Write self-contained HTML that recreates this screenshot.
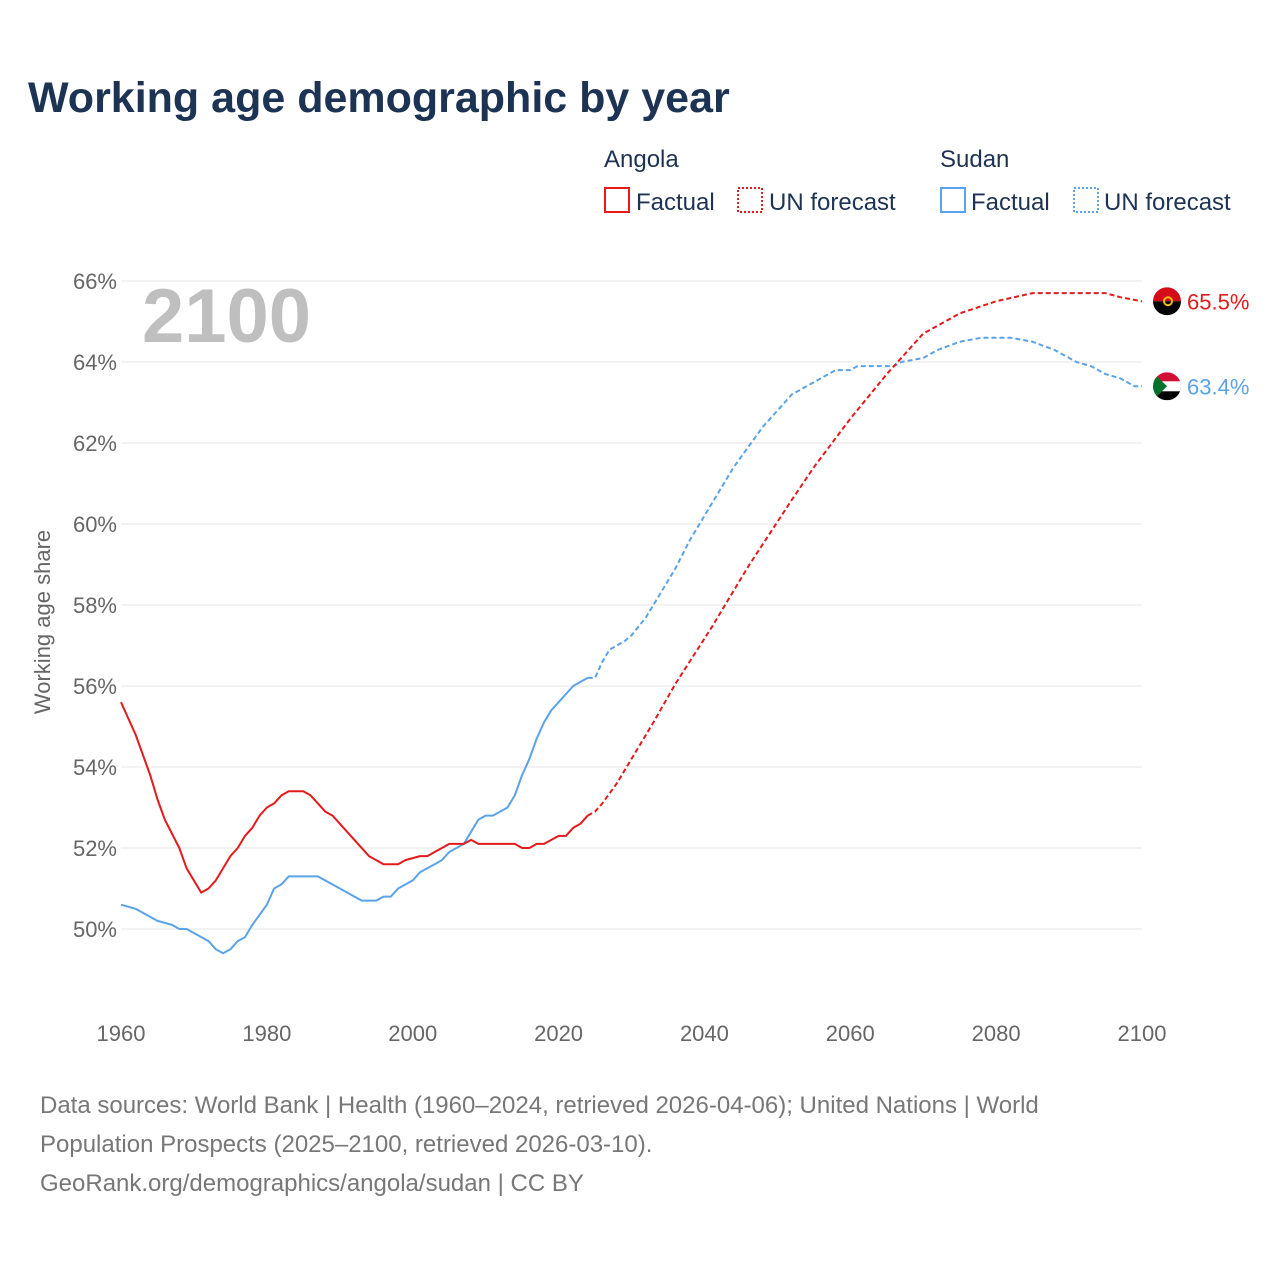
<!DOCTYPE html>
<html><head><meta charset="utf-8">
<style>
body{margin:0;background:#fff;font-family:"Liberation Sans",sans-serif;}
#wrap{position:relative;width:1280px;height:1280px;overflow:hidden;}
</style></head>
<body>
<div id="wrap">
<svg id="chart" width="1280" height="1280" style="position:absolute;left:0;top:0">
<text x="28" y="112" font-size="43" font-weight="bold" fill="#1d3354">Working age demographic by year</text>
<g font-size="24" fill="#1d3354">
<text x="604" y="167">Angola</text>
<text x="940" y="167">Sudan</text>
<g><rect x="605" y="188" width="24" height="24" fill="none" stroke="#e41a1c" stroke-width="2"/><text x="636" y="210">Factual</text></g>
<g><rect x="738" y="188" width="24" height="24" fill="none" stroke="#e41a1c" stroke-width="2" stroke-dasharray="2,2"/><text x="769" y="210">UN forecast</text></g>
<g><rect x="941" y="188" width="24" height="24" fill="none" stroke="#5ba3e8" stroke-width="2"/><text x="971" y="210">Factual</text></g>
<g><rect x="1074" y="188" width="24" height="24" fill="none" stroke="#5ba3e8" stroke-width="2" stroke-dasharray="2,2"/><text x="1104" y="210">UN forecast</text></g>
</g>
<text x="142" y="342" font-size="76" font-weight="bold" fill="#bfbfbf">2100</text>
<text transform="translate(50,622) rotate(-90)" text-anchor="middle" font-size="22" fill="#666">Working age share</text>
<g id="grid"></g><g id="yt"></g><g id="xt"></g><g id="lines"></g><g id="ends"></g>
<g font-size="24" fill="#777">
<text x="40" y="1113">Data sources: World Bank | Health (1960–2024, retrieved 2026-04-06); United Nations | World</text>
<text x="40" y="1152">Population Prospects (2025–2100, retrieved 2026-03-10).</text>
<text x="40" y="1191">GeoRank.org/demographics/angola/sudan | CC BY</text>
</g>
</svg>
</div>
<script>
const yTicks=[50,52,54,56,58,60,62,64,66];
const xTicks=[1960,1980,2000,2020,2040,2060,2080,2100];
const angolaYears=[1960,1962,1964,1965,1966,1968,1969,1971,1972,1973,1975,1976,1977,1978,1979,1980,1981,1982,1983,1985,1986,1987,1988,1989,1990,1992,1994,1996,1998,1999,2001,2002,2004,2005,2007,2008,2009,2014,2015,2016,2017,2018,2019,2020,2021,2022,2023,2024];
const angolaVals=[55.6,54.8,53.8,53.2,52.7,52.0,51.5,50.9,51.0,51.2,51.8,52.0,52.3,52.5,52.8,53.0,53.1,53.3,53.4,53.4,53.3,53.1,52.9,52.8,52.6,52.2,51.8,51.6,51.6,51.7,51.8,51.8,52.0,52.1,52.1,52.2,52.1,52.1,52.0,52.0,52.1,52.1,52.2,52.3,52.3,52.5,52.6,52.8];
const angolaFcYears=[2024,2025,2026,2028,2030,2033,2036,2041,2046,2052,2055,2060,2065,2070,2075,2080,2085,2095,2097,2100];
const angolaFcVals=[52.8,52.9,53.1,53.6,54.2,55.1,56.05,57.45,58.95,60.6,61.4,62.6,63.7,64.7,65.2,65.5,65.7,65.7,65.6,65.5];
const sudanYears=[1960,1962,1964,1965,1967,1968,1969,1972,1973,1974,1975,1976,1977,1978,1980,1981,1982,1983,1987,1990,1993,1995,1996,1997,1998,2000,2001,2003,2004,2005,2007,2008,2009,2010,2011,2013,2014,2015,2016,2017,2018,2019,2020,2022,2023,2024];
const sudanVals=[50.6,50.5,50.3,50.2,50.1,50.0,50.0,49.7,49.5,49.4,49.5,49.7,49.8,50.1,50.6,51.0,51.1,51.3,51.3,51.0,50.7,50.7,50.8,50.8,51.0,51.2,51.4,51.6,51.7,51.9,52.1,52.4,52.7,52.8,52.8,53.0,53.3,53.8,54.2,54.7,55.1,55.4,55.6,56.0,56.1,56.2];
const sudanFcYears=[2024,2025,2026,2027,2029,2030,2032,2034,2036,2038,2040,2042,2044,2046,2048,2050,2052,2054,2056,2058,2060,2061,2066,2067,2070,2072,2075,2078,2082,2085,2088,2091,2093,2095,2097,2099,2100];
const sudanFcVals=[56.2,56.2,56.6,56.9,57.1,57.25,57.7,58.3,58.9,59.6,60.2,60.8,61.4,61.9,62.4,62.8,63.2,63.4,63.6,63.8,63.8,63.9,63.9,64.0,64.1,64.3,64.5,64.6,64.6,64.5,64.3,64.0,63.9,63.7,63.6,63.4,63.4];

const NS="http://www.w3.org/2000/svg";
const X=y=>121+(y-1960)*(1142-121)/140;
const Y=v=>929-(v-50)*40.5;
function mk(tag,attrs,parent){const e=document.createElementNS(NS,tag);for(const k in attrs)e.setAttribute(k,attrs[k]);document.getElementById(parent).appendChild(e);return e;}
yTicks.forEach(t=>{
  const l=mk('line',{x1:121,x2:1142,y1:Y(t),y2:Y(t),stroke:'#e6e6e6','stroke-width':1},'grid');
  
  
  const tx=mk('text',{x:117,y:Y(t)+8,'text-anchor':'end','font-size':22,fill:'#666'},'yt');
  tx.textContent=t+'%';
  
  
});
xTicks.forEach(t=>{
  const tx=mk('text',{x:X(t),y:1041,'text-anchor':'middle','font-size':22,fill:'#666'},'xt');
  tx.textContent=t;
  
  
});
function line(xs,vs,color,dash,name){
  const d=xs.map((x,i)=>(i?'L':'M')+X(x).toFixed(1)+','+Y(vs[i]).toFixed(1)).join('');
  const p=mk('path',{d:d,fill:'none',stroke:color,'stroke-width':2,'stroke-linejoin':'round'},'lines');
  if(dash)p.setAttribute('stroke-dasharray','5,3');
  
  
}
line(sudanYears,sudanVals,'#5ba3e8',false,'sudan-factual-line');
line(sudanFcYears,sudanFcVals,'#5ba3e8',true,'sudan-forecast-line');
line(angolaYears,angolaVals,'#e41a1c',false,'angola-factual-line');
line(angolaFcYears,angolaFcVals,'#e41a1c',true,'angola-forecast-line');
function endLabel(v,color,name,top,bot,mid){
  const cx=1167,cy=Y(v);
  const g=mk('g',{},'ends');
  
  
  const id='c'+name;
  const cp=document.createElementNS(NS,'clipPath');cp.setAttribute('id',id);
  const c=document.createElementNS(NS,'circle');c.setAttribute('cx',cx);c.setAttribute('cy',cy);c.setAttribute('r',14);cp.appendChild(c);g.appendChild(cp);
  const r1=document.createElementNS(NS,'rect');r1.setAttribute('x',cx-14);r1.setAttribute('y',cy-14);r1.setAttribute('width',28);r1.setAttribute('height',14);r1.setAttribute('fill',top);r1.setAttribute('clip-path','url(#'+id+')');g.appendChild(r1);
  const r2=document.createElementNS(NS,'rect');r2.setAttribute('x',cx-14);r2.setAttribute('y',cy);r2.setAttribute('width',28);r2.setAttribute('height',14);r2.setAttribute('fill',bot);r2.setAttribute('clip-path','url(#'+id+')');g.appendChild(r2);
  if(mid){const r3=document.createElementNS(NS,'rect');r3.setAttribute('x',cx-14);r3.setAttribute('y',cy-5);r3.setAttribute('width',28);r3.setAttribute('height',10);r3.setAttribute('fill',mid);r3.setAttribute('clip-path','url(#'+id+')');g.appendChild(r3);
    const tri=document.createElementNS(NS,'path');tri.setAttribute('d','M'+(cx-14)+','+(cy-14)+'L'+(cx)+','+cy+'L'+(cx-14)+','+(cy+14)+'Z');tri.setAttribute('fill','#007229');tri.setAttribute('clip-path','url(#'+id+')');g.appendChild(tri);}
  else{const s=document.createElementNS(NS,'circle');s.setAttribute('cx',cx+1);s.setAttribute('cy',cy);s.setAttribute('r',4);s.setAttribute('fill','none');s.setAttribute('stroke','#f0c000');s.setAttribute('stroke-width',2);g.appendChild(s);}
  const t=document.createElementNS(NS,'text');t.setAttribute('x',1187);t.setAttribute('y',cy+8);t.setAttribute('font-size',22);t.setAttribute('fill',color);t.textContent=v.toFixed(1)+'%';g.appendChild(t);
}
endLabel(angolaFcVals[angolaFcVals.length-1],'#e41a1c','angola','#d50d1b','#000',null);
endLabel(sudanFcVals[sudanFcVals.length-1],'#5ba3e8','sudan','#d21034','#000','#fff');
</script>
</body></html>
